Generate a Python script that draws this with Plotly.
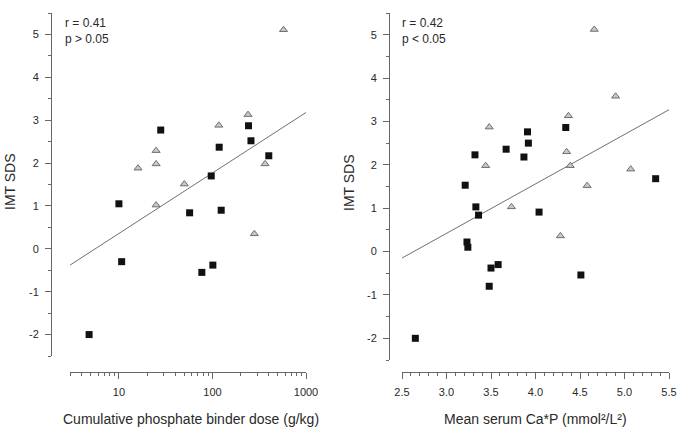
import plotly.graph_objects as go

# left panel: cumulative phosphate binder dose (g/kg), log scale
dose_sq = [4.8, 10, 10.7, 28, 57, 77, 97, 101, 118, 124, 243, 258, 400]
imt_sq_l = [-2.0, 1.05, -0.30, 2.77, 0.84, -0.55, 1.70, -0.38, 2.37, 0.90, 2.87, 2.52, 2.17]
dose_tri = [16, 25, 25, 25, 50, 117, 240, 280, 365, 575]
imt_tri_l = [1.88, 2.29, 1.98, 1.02, 1.51, 2.88, 3.13, 0.35, 1.98, 5.11]
fit_dose = [3, 1000]
fit_imt_l = [-0.38, 3.18]

# right panel: mean serum Ca*P
cap_sq = [2.65, 3.21, 3.23, 3.24, 3.32, 3.33, 3.36, 3.48, 3.50, 3.58, 3.67, 3.87, 3.91, 3.92, 4.04, 4.34, 4.51, 5.35]
imt_sq_r = [-2.0, 1.53, 0.22, 0.10, 2.23, 1.03, 0.84, -0.80, -0.38, -0.30, 2.36, 2.18, 2.76, 2.50, 0.91, 2.86, -0.54, 1.68]
cap_tri = [3.44, 3.48, 3.73, 4.28, 4.35, 4.37, 4.39, 4.58, 4.66, 4.90, 5.07]
imt_tri_r = [1.98, 2.87, 1.03, 0.36, 2.30, 3.13, 1.98, 1.52, 5.12, 3.58, 1.90]
fit_cap = [2.5, 5.5]
fit_imt_r = [-0.15, 3.27]

y_ticks = [-2, -1, 0, 1, 2, 3, 4, 5]
dose_ticks = [10, 100, 1000]
cap_ticks = [2.5, 3.0, 3.5, 4.0, 4.5, 5.0, 5.5]

W, H = 677, 430
TXT = "#2a2a2a"
AX = "#666666"
FONT = "Liberation Sans, Arial, sans-serif"


def px(x):
    return x / W


def py(y):
    return 1 - y / H


sq = dict(symbol="square", size=7, color="#111111", line=dict(width=0))
tri = dict(symbol="triangle-up", size=7, color="#c8c8c8", line=dict(color="#6e6e6e", width=1))
fit_line = dict(color="#707070", width=1)

fig = go.Figure()

for xa, ya, xs, ys, xt, yt, fx, fy in [
    ("x", "y", dose_sq, imt_sq_l, dose_tri, imt_tri_l, fit_dose, fit_imt_l),
    ("x2", "y2", cap_sq, imt_sq_r, cap_tri, imt_tri_r, fit_cap, fit_imt_r),
]:
    fig.add_trace(go.Scatter(x=fx, y=fy, mode="lines", line=fit_line,
                             xaxis=xa, yaxis=ya, showlegend=False))
    fig.add_trace(go.Scatter(x=xt, y=yt, mode="markers", marker=tri,
                             xaxis=xa, yaxis=ya, showlegend=False))
    fig.add_trace(go.Scatter(x=xs, y=ys, mode="markers", marker=sq,
                             xaxis=xa, yaxis=ya, showlegend=False))

common = dict(
    showline=True, linecolor=AX, linewidth=1, ticks="outside", ticklen=6,
    tickcolor=AX, tickwidth=1, showgrid=False, zeroline=False, anchor="free",
    tickfont=dict(size=11, color=TXT, family=FONT), automargin=False,
    ticklabelstandoff=4,
)

# hyphen-minus labels, like the original figure
yax = dict(common, range=[-2.5, 5.5], tickvals=y_ticks,
           ticktext=[str(v) for v in y_ticks],
           minor=dict(dtick=0.5, ticks="outside", ticklen=3, tickcolor=AX, showgrid=False))

log_minor = [m * 10 ** e for e in range(0, 3) for m in range(2, 10) if 3 <= m * 10 ** e <= 1000]

fig.update_layout(
    width=W, height=H,
    margin=dict(l=0, r=0, t=0, b=0),
    plot_bgcolor="white", paper_bgcolor="white",
    font=dict(family=FONT, color=TXT),
    xaxis=dict(common, type="log", range=[0.4771, 3], tickvals=dose_ticks,
               ticktext=[str(v) for v in dose_ticks],
               domain=[px(70), px(306)], position=py(372),
               minor=dict(tickvals=log_minor, ticks="outside", ticklen=3, tickcolor=AX, showgrid=False)),
    yaxis=dict(yax, domain=[py(356), py(13)], position=px(51)),
    xaxis2=dict(common, range=[2.5, 5.5], tickvals=cap_ticks,
                ticktext=[f"{v:.1f}" for v in cap_ticks],
                domain=[px(402), px(669)], position=py(372),
                minor=dict(dtick=0.1, ticks="outside", ticklen=3, tickcolor=AX, showgrid=False)),
    yaxis2=dict(yax, domain=[py(360), py(13)], position=px(389)),
)

ann = dict(showarrow=False, xref="paper", yref="paper", xanchor="center", yanchor="middle",
           font=dict(size=14, color=TXT, family=FONT))
fig.add_annotation(ann, text="IMT SDS", x=px(10), y=py(182), textangle=-90)
fig.add_annotation(ann, text="IMT SDS", x=px(349), y=py(183), textangle=-90)
fig.add_annotation(ann, text="Cumulative phosphate binder dose (g/kg)", x=px(191), y=py(419))
fig.add_annotation(ann, text="Mean serum Ca*P (mmol²/L²)", x=px(535), y=py(419))

stat = dict(showarrow=False, xref="paper", yref="paper", xanchor="left", yanchor="middle",
            align="left", font=dict(size=12, color=TXT, family=FONT))
fig.add_annotation(stat, text="r = 0.41<br>p > 0.05", x=px(63), y=py(31))
fig.add_annotation(stat, text="r = 0.42<br>p < 0.05", x=px(400), y=py(31))

# drop the page's default body margin so the figure sits at the window's corner
fig.write_html("out.html", config={"displayModeBar": False},
               post_script="document.body.style.margin='0';")
